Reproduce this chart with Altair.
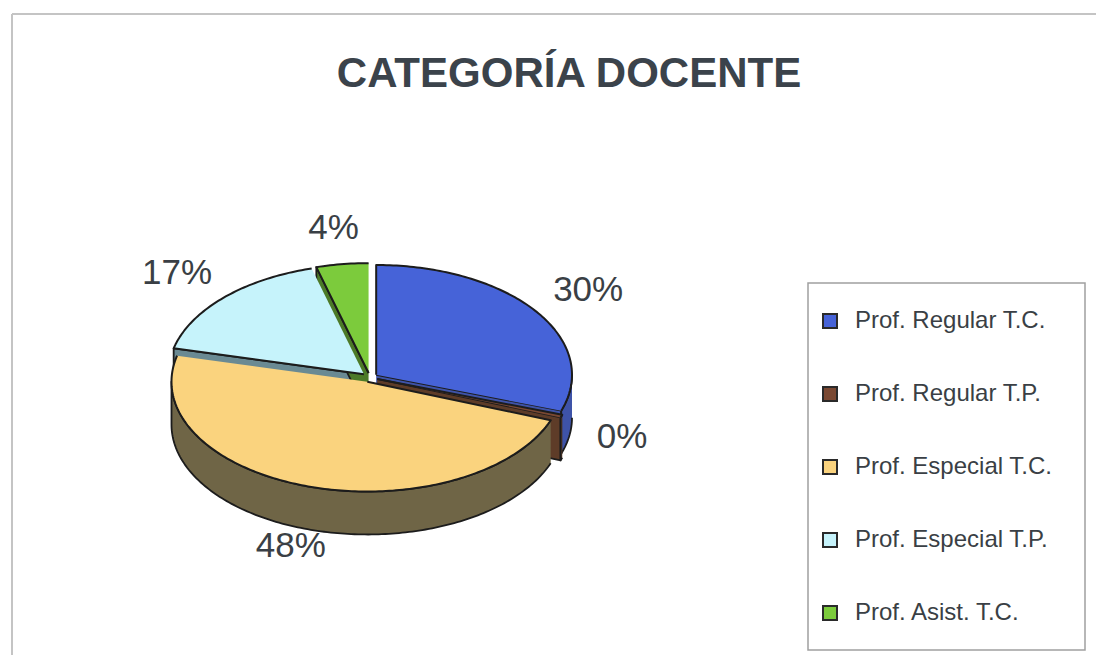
import math
import altair as alt
import pandas as pd

# ---- data ----
categories = ["Prof. Regular T.C.", "Prof. Regular T.P.", "Prof. Especial T.C.",
              "Prof. Especial T.P.", "Prof. Asist. T.C."]
percent = [30.3, 0.4, 48.1, 16.9, 4.3]
title_text = "CATEGORÍA DOCENTE"

# ---- styles ----
top_colors = ["#4663D8", "#7A4832", "#FAD37E", "#C6F3FB", "#7CCB3C"]
side_colors = ["#3E53A8", "#5E3C28", "#6F6546", "#6A8A93", "#4C7A28"]
EDGE = "#1c1c1c"
TEXT = "#3a3f45"

W, H = 1088, 647
CX, CY, RX, RY, DEPTH, EXPLODE = 362, 370, 196, 110, 43, 8

total = sum(percent)
bounds = []
acc = 0.0
for p in percent:
    a0 = acc / total * 360
    acc += p
    bounds.append((a0, acc / total * 360))


def offset(mid):
    t = math.radians(mid)
    return EXPLODE * math.sin(t), -EXPLODE * math.cos(t) * RY / RX


def pt(a, off, r=1.0, dz=0.0):
    t = math.radians(a)
    return (CX + off[0] + RX * r * math.sin(t), CY + off[1] - RY * r * math.cos(t) + dz)


def arc(a0, a1, off, dz=0.0):
    n = max(2, int(abs(a1 - a0)) + 1)
    return [pt(a0 + (a1 - a0) * k / (n - 1), off, dz=dz) for k in range(n)]


top_rows, side_rows, label_rows = [], [], []
faces, walls = [], []
for i, (cat, (a0, a1)) in enumerate(zip(categories, bounds)):
    mid = (a0 + a1) / 2
    off = offset(mid)
    poly = [pt(a0, off, r=0)] + arc(a0, a1, off)
    for k, (x, y) in enumerate(poly):
        top_rows.append({"piece": f"top{i}", "cat": cat, "o": k, "x": x, "y": y})
    # radial faces facing the viewer
    if 0 < a1 < 180:
        faces.append((f"face_end{i}", i, [pt(a1, off, r=0), pt(a1, off), pt(a1, off, dz=DEPTH), pt(a1, off, r=0, dz=DEPTH)]))
    if 180 < a0 < 360:
        faces.append((f"face_start{i}", i, [pt(a0, off, r=0), pt(a0, off), pt(a0, off, dz=DEPTH), pt(a0, off, r=0, dz=DEPTH)]))
    lo, hi = max(a0, 90), min(a1, 270)
    if hi > lo:
        walls.append((f"wall{i}", i, arc(lo, hi, off) + arc(hi, lo, off, dz=DEPTH)))
    # label
    t = math.radians(mid)
    lx = CX + RX * 1.37 * math.sin(t)
    ly = CY - RY * 1.37 * math.cos(t) + DEPTH * 0.6 * max(0.0, -math.cos(t))
    label_rows.append({"x": lx, "y": ly, "label": f"{round(percent[i] / total * 100):.0f}%"})

# draw order: back faces first, walls after
faces.sort(key=lambda f: (0 if "start" in f[0] else 1, f[1]))
side_pieces = faces + walls
for name, i, pts in side_pieces:
    for k, (x, y) in enumerate(pts):
        side_rows.append({"piece": name, "o": k, "x": x, "y": y})

tops = pd.DataFrame(top_rows)
sides = pd.DataFrame(side_rows)
labels = pd.DataFrame(label_rows)

xs = alt.Scale(domain=[0, W], nice=False, zero=False)
ys = alt.Scale(domain=[0, H], nice=False, zero=False, reverse=True)
X = alt.X("x:Q", scale=xs, axis=None)
Y = alt.Y("y:Q", scale=ys, axis=None)

layers = []

# frame lines
frame = pd.DataFrame({"a": [0]})
layers.append(alt.Chart(frame).mark_rule(color="#c4c4c4", strokeWidth=2).encode(
    x=alt.value(4), x2=alt.value(W), y=alt.value(6)))
layers.append(alt.Chart(frame).mark_rule(color="#c4c4c4", strokeWidth=2).encode(
    x=alt.value(4), y=alt.value(6), y2=alt.value(H)))
# legend box
layers.append(alt.Chart(frame).mark_rect(fill="white", stroke="#a0a0a0", strokeWidth=1.5).encode(
    x=alt.value(800), x2=alt.value(1077), y=alt.value(275), y2=alt.value(642)))

# side walls / faces
for name, i, pts in side_pieces:
    layers.append(
        alt.Chart(sides).transform_filter(alt.datum.piece == name)
        .mark_line(filled=True, fill=side_colors[i], stroke=EDGE, strokeWidth=1.8, strokeJoin="round")
        .encode(x=X, y=Y, order="o:Q")
    )

# top faces (with legend)
layers.append(
    alt.Chart(tops).mark_line(filled=True, stroke=EDGE, strokeWidth=2, strokeJoin="round")
    .encode(
        x=X, y=Y, order="o:Q", detail="piece:N",
        color=alt.Color("cat:N", sort=categories,
                        scale=alt.Scale(domain=categories, range=top_colors),
                        legend=alt.Legend(orient="none", legendX=810, legendY=301, title=None,
                                          symbolType="square", symbolSize=196,
                                          symbolStrokeColor="#2a2a2a", symbolStrokeWidth=2,
                                          labelFont="Liberation Sans", labelFontSize=24,
                                          labelColor=TEXT, rowPadding=49, labelOffset=13,
                                          padding=0, labelLimit=300)),
    )
)

# percentage labels
layers.append(
    alt.Chart(labels).mark_text(font="Liberation Sans", fontSize=35, color=TEXT,
                                align="center", baseline="middle")
    .encode(x=X, y=Y, text="label:N")
)

# title
layers.append(
    alt.Chart(pd.DataFrame({"t": [title_text]})).mark_text(
        font="Liberation Sans", fontSize=42, fontWeight="bold", color="#3b434b",
        align="center", baseline="alphabetic")
    .encode(x=alt.value(561), y=alt.value(79), text="t:N")
)

chart = alt.layer(*layers).properties(
    width=W, height=H, padding=0,
    autosize=alt.AutoSizeParams(type="fit", contains="padding"),
    background="white",
).configure_view(stroke=None)

chart.save("out.html", embed_options={"renderer": "svg", "actions": False})
